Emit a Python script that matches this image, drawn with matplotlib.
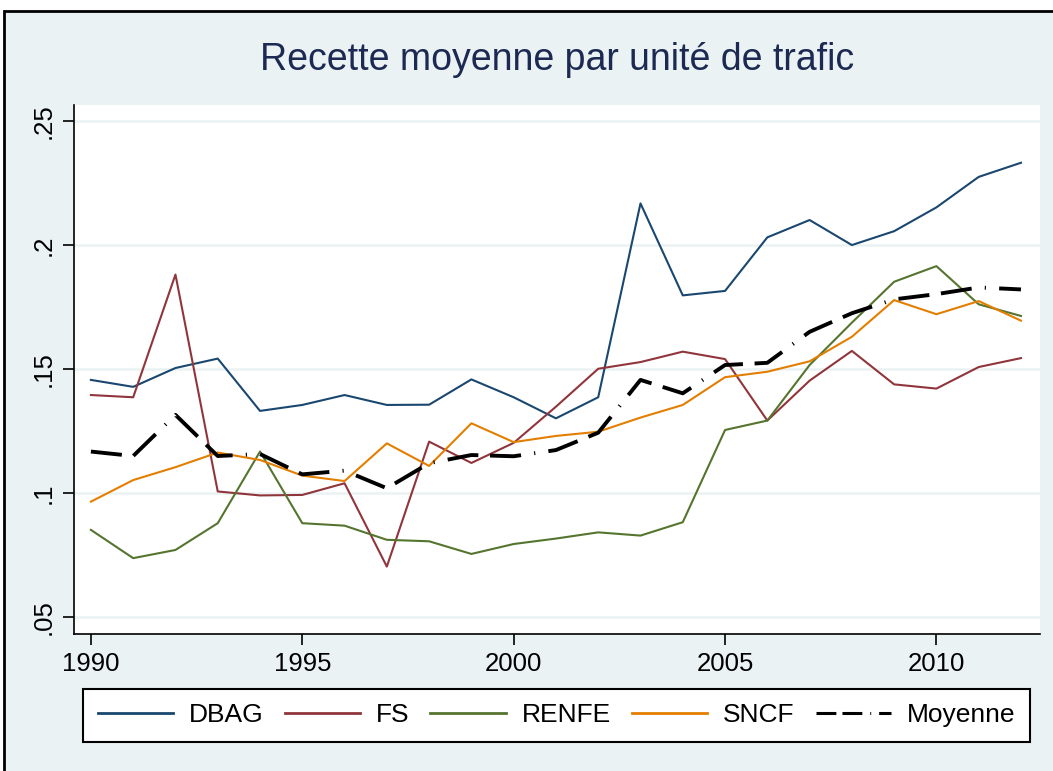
import matplotlib
matplotlib.use("Agg")
import matplotlib.pyplot as plt
from matplotlib.patches import Rectangle

plt.rcParams['font.family'] = ['Liberation Sans', 'DejaVu Sans']

# données
annees = list(range(1990, 2013))
dbag = [0.1456, 0.1428, 0.1504, 0.1542, 0.1331, 0.1355, 0.1395, 0.1355, 0.1356, 0.1458,
        0.1386, 0.1301, 0.1386, 0.2168, 0.1797, 0.1815, 0.2031, 0.2101, 0.2000, 0.2056,
        0.2152, 0.2275, 0.2332]
fs = [0.1395, 0.1386, 0.1881, 0.1006, 0.0990, 0.0992, 0.1039, 0.0703, 0.1207, 0.1121,
      0.1202, 0.1348, 0.1501, 0.1528, 0.1570, 0.1540, 0.1292, 0.1453, 0.1573, 0.1438,
      0.1421, 0.1508, 0.1544]
renfe = [0.0851, 0.0737, 0.0770, 0.0878, 0.1167, 0.0878, 0.0868, 0.0811, 0.0805, 0.0754,
         0.0794, 0.0816, 0.0841, 0.0828, 0.0882, 0.1254, 0.1292, 0.1516, 0.1687, 0.1852,
         0.1915, 0.1761, 0.1714]
sncf = [0.0965, 0.1052, 0.1104, 0.1163, 0.1133, 0.1070, 0.1048, 0.1200, 0.1109, 0.1281,
        0.1205, 0.1230, 0.1247, 0.1304, 0.1355, 0.1467, 0.1489, 0.1531, 0.1630, 0.1778,
        0.1721, 0.1774, 0.1695]
moyenne = [0.1167, 0.1149, 0.1315, 0.1149, 0.1157, 0.1075, 0.1090, 0.1019, 0.1120, 0.1153,
           0.1148, 0.1173, 0.1243, 0.1456, 0.1402, 0.1516, 0.1525, 0.1650, 0.1725, 0.1781,
           0.1802, 0.1829, 0.1821]

series = [("DBAG", dbag, "#1a476f"), ("FS", fs, "#90353b"),
          ("RENFE", renfe, "#55752f"), ("SNCF", sncf, "#e37e00")]

yticks = [0.05, 0.10, 0.15, 0.20, 0.25]
ylabels = [".05", ".1", ".15", ".2", ".25"]
xticks = [1990, 1995, 2000, 2005, 2010]

bg = "#eaf2f3"
tirets = (8.0, 3.0, 8.0, 3.4, 0.3, 3.4)

fig = plt.figure(figsize=(10.53, 7.71), dpi=100, facecolor="white")
# fond du graphique (style Stata)
fig.patches.append(Rectangle((4 / 1053, -0.1), 1.2, 1.1 - 11 / 771, transform=fig.transFigure,
                             facecolor=bg, edgecolor="black", linewidth=2, zorder=-10))

ax = fig.add_axes([74 / 1053, 1 - 634 / 771, (1040 - 74) / 1053, (634 - 105) / 771])
ax.set_facecolor("white")

for nom, vals, col in series:
    ax.plot(annees, vals, color=col, lw=1.5, label=nom)
ax.plot(annees, moyenne, color="black", lw=2.8, label="Moyenne",
        dashes=tirets, dash_capstyle="butt")

ax.set_xlim(1989.6, 2012.45)
ax.set_ylim(0.0431, 0.2565)
ax.set_yticks(yticks)
ax.set_yticklabels(ylabels, rotation=90, va="center")
ax.set_xticks(xticks)
ax.grid(axis="y", color=bg, lw=1.8)
ax.set_axisbelow(True)

for s in ["top", "right"]:
    ax.spines[s].set_visible(False)
for s in ["left", "bottom"]:
    ax.spines[s].set_linewidth(1.2)
ax.tick_params(axis="both", length=8, width=1.2, labelsize=18.5, pad=5)

fig.text(0.529, 0.922, "Recette moyenne par unité de trafic", ha="center", va="center",
         fontsize=27, color="#1c2952")

leg = fig.legend(loc="center", bbox_to_anchor=(0.5285, 0.072), ncol=5, fontsize=19,
                 frameon=True, fancybox=False, framealpha=1, handlelength=2.85,
                 handletextpad=0.6, columnspacing=0.8, borderpad=0.55)
leg.get_frame().set_edgecolor("black")
leg.get_frame().set_linewidth(1.5)
for line in leg.get_lines():
    line.set_linewidth(2)
leg.get_lines()[-1].set_linewidth(2.2)
leg.get_lines()[-1].set_dashes((6.5, 2, 6.5, 2.6, 0.3, 2.6))

fig.savefig("out.png", dpi=100, facecolor=fig.get_facecolor())
